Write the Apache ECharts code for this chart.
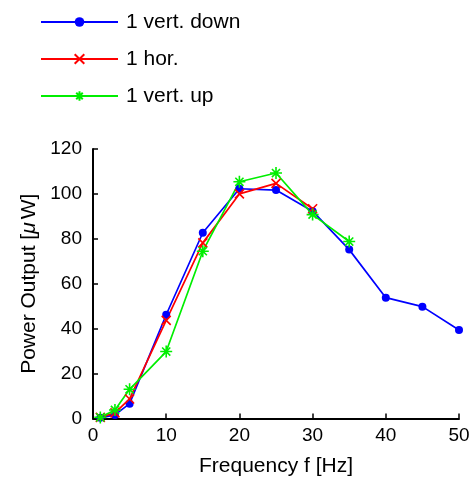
<!DOCTYPE html>
<html><head><meta charset="utf-8">
<script src="https://cdn.jsdelivr.net/npm/echarts@6/dist/echarts.min.js"></script>
<style>html,body{margin:0;padding:0;background:#fff}#c{width:473px;height:479px}</style>
</head><body><div id="c"></div>
<script>
const freqDown = [1, 3, 5, 10, 15, 20, 25, 30, 35, 40, 45, 50];
const vertDown = [0.3, 1.6, 6.6, 46.2, 82.7, 102.3, 101.7, 92.3, 75.2, 53.8, 49.8, 39.4];
const freqHor = [1, 3, 5, 10, 15, 20, 25, 30];
const hor = [0.5, 2.5, 8.7, 43.7, 78.2, 100, 104.7, 93.4];
const freqUp = [1, 3, 5, 10, 15, 20, 25, 30, 35];
const vertUp = [0.5, 3.8, 13, 29.8, 74.5, 105.4, 109.3, 90.8, 78.8];
const seriesNames = ['1 vert. down', '1 hor.', '1 vert. up'];

const pair = (xs, ys) => xs.map((x, i) => [x, ys[i]]);
const font = 'Liberation Sans, Arial, sans-serif';
const fs = 19;
const fsBig = 21;
const crossSym = 'path://M0,0L10,10M10,0L0,10';
const starSym = 'path://M5,0L5,10M0,5L10,5M1.6,1.6L8.4,8.4M8.4,1.6L1.6,8.4';

const chart = echarts.init(document.getElementById('c'), null, {renderer: 'canvas'});
chart.setOption({
  animation: false,
  backgroundColor: '#fff',
  legend: {
    orient: 'vertical', left: 35, top: 6,
    itemWidth: 77, itemHeight: 12, itemGap: 15,
    textStyle: {fontFamily: font, fontSize: fsBig, color: '#000', lineHeight: 22, padding: [0, 0, 0, 3]},
    data: seriesNames
  },
  grid: {left: 93, right: 14, top: 149, bottom: 60.5, containLabel: false, outerBoundsMode: 'none'},
  xAxis: {
    type: 'value', min: 0, max: 50, interval: 10,
    name: 'Frequency f [Hz]', nameLocation: 'middle', nameGap: 37,
    nameTextStyle: {fontFamily: font, fontSize: fsBig, color: '#000'},
    axisLine: {lineStyle: {color: '#000', width: 2}},
    axisTick: {inside: true, length: 5, lineStyle: {color: '#000', width: 1.5}},
    axisLabel: {fontFamily: font, fontSize: fs, color: '#000', margin: 8},
    splitLine: {show: false}
  },
  yAxis: {
    type: 'value', min: 0, max: 120, interval: 20,
    name: 'Power Output [{i|μ}W]', nameLocation: 'middle', nameGap: 51,
    nameTextStyle: {fontFamily: font, fontSize: fsBig, color: '#000', rich: {i: {fontStyle: 'italic', fontFamily: font, fontSize: fsBig, color: '#000', padding: [0, 3, 0, 0]}}},
    axisLine: {show: true, lineStyle: {color: '#000', width: 2}},
    axisTick: {show: true, inside: true, length: 5, lineStyle: {color: '#000', width: 1.5}},
    axisLabel: {fontFamily: font, fontSize: fs, color: '#000', margin: 11},
    splitLine: {show: false}
  },
  series: [
    {name: seriesNames[0], type: 'line', data: pair(freqDown, vertDown), symbol: 'circle', symbolSize: 8,
     lineStyle: {color: '#0000ff', width: 1.7}, itemStyle: {color: '#0000ff'}},
    {name: seriesNames[1], type: 'line', data: pair(freqHor, hor), symbol: crossSym, symbolSize: 9,
     lineStyle: {color: '#ff0000', width: 1.7}, itemStyle: {color: '#ff0000', borderColor: '#ff0000', borderWidth: 1.6}},
    {name: seriesNames[2], type: 'line', data: pair(freqUp, vertUp), symbol: starSym, symbolSize: 12,
     lineStyle: {color: '#00ee00', width: 1.7}, itemStyle: {color: '#00ee00', borderColor: '#00ee00', borderWidth: 1.6}}
  ]
});
</script></body></html>
